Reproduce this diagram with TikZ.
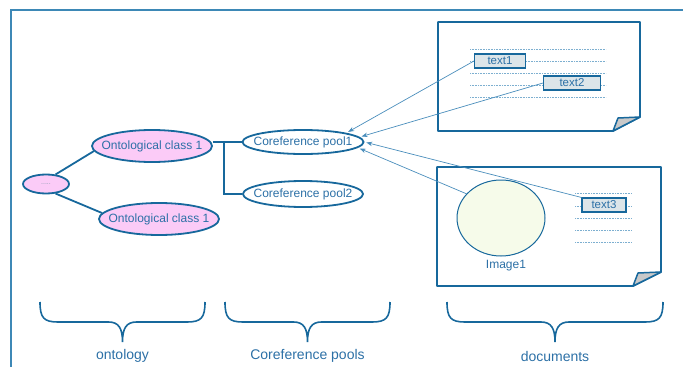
\documentclass[tikz,border=0pt]{standalone}
\usepackage{fontspec}
\setmainfont{Liberation Sans}
\usetikzlibrary{shapes.geometric,arrows.meta}
\definecolor{edgeblue}{HTML}{17689C}
\definecolor{textblue}{HTML}{2C70A6}
\definecolor{arrowblue}{HTML}{4A8EBC}
\definecolor{dotblue}{HTML}{7DAFD0}
\definecolor{classpink}{HTML}{FBCBF7}
\definecolor{imagefill}{HTML}{F6FBEA}
\definecolor{boxfill}{HTML}{DCE5E9}
\definecolor{foldgray}{HTML}{C9C9C9}
\definecolor{framecol}{HTML}{3D88B6}
\definecolor{dotgray}{HTML}{8C9CB2}

\begin{document}
\begin{tikzpicture}[x=1pt,y=-1pt,
                font=\fontsize{12}{14}\selectfont,
                entity/.style={ellipse,draw=edgeblue,line width=1.8pt,text=textblue,inner xsep=-8pt,inner ysep=0pt},
                textbox/.style={draw=edgeblue,line width=1.1pt,fill=boxfill,text=textblue,
                    minimum height=14pt,inner sep=0pt,font=\fontsize{11.5}{12}\selectfont},
                link/.style={draw=edgeblue,line width=1.8pt},
                ref/.style={draw=arrowblue,line width=0.7pt,-{Stealth[length=6pt,width=4.5pt]},shorten >=2pt},
                rule/.style={dotblue,densely dotted,line width=0.6pt},
                doc/.style={draw=edgeblue,line width=1.8pt,fill=white,line join=round},
                fold/.style={draw=edgeblue,line width=1.5pt,fill=foldgray,line join=round},
                brace/.style={draw=edgeblue,line width=1.6pt},
                caption/.style={text=textblue}]
                \useasboundingbox (0,0) rectangle (683,367);
                \draw[framecol,line width=1.4pt] (683,10) -- (11,10) -- (11,367);
                % documents
                \draw[doc] (438,22) -- (640,22) -- (640,117) -- (613,131) -- (438,131) -- cycle;
                \draw[fold] (613,131) -- (618,118) -- (640,117) -- cycle;
                \draw[doc] (437,167) -- (661,167) -- (661,272) -- (633,286) -- (437,286) -- cycle;
                \draw[fold] (633,286) -- (638,273) -- (661,272) -- cycle;
                \foreach \y in {49,61,73,85,97} \draw[rule] (470,\y) -- (606,\y);
                \foreach \y in {193,206,218,230,242} \draw[rule] (575,\y) -- (632,\y);
                \node[textbox,minimum width=51pt] (text1) at (500,61) {text1};
                \node[textbox,minimum width=57pt] (text2) at (572,83) {text2};
                \node[textbox,minimum width=44pt] (text3) at (604,205) {text3};
                \node[ellipse,draw=edgeblue,line width=1pt,fill=imagefill,
                    minimum width=88pt,minimum height=76pt] (img) at (501,218) {};
                \node[caption] (imglabel) at (506,266) {Image1};
                % ontology and pools
                \node[entity,fill=classpink,minimum width=46pt,minimum height=19pt,
                    font=\fontsize{7}{8}\selectfont,text=dotgray] (dots) at (46,184) {.....};
                \node[entity,fill=classpink,minimum width=120pt,minimum height=32pt] (cls1) at (152,146) {Ontological class 1};
                \node[entity,fill=classpink,minimum width=120pt,minimum height=32pt] (cls2) at (159,219) {Ontological class 1};
                \node[entity,minimum width=121pt,minimum height=24pt] (pool1) at (303,142) {Coreference pool1};
                \node[entity,minimum width=120pt,minimum height=26pt] (pool2) at (303,194) {Coreference pool2};
                \coordinate (split) at (224,142);
                \draw[link] (dots.45) -- (cls1.185);
                \draw[link] (dots.-45) -- (cls2.174);
                \draw[link] (cls1.east |- pool1.west) -- (pool1.west);
                \draw[link] (split) |- (pool2.west);
                \draw[ref] (text1.west) -- (pool1.north east);
                \draw[ref] (text2.west) -- (pool1.5);
                \draw[ref] (text3.north west) -- (pool1.east);
                \draw[ref] (img.145) -- (pool1.-6);
                % braces
                \foreach \a/\b/\name/\txt in {40/205/ontology/ontology,225/390/pools/Coreference pools,447/663/documents/documents}{
                    \pgfmathsetmacro{\m}{(\a+\b)/2}
                    \draw[brace] (\a,302) .. controls (\a,318) and (\a+4,322) .. (\a+18,322) -- (\m-14,322)
                        .. controls (\m-4,322) and (\m,328) .. (\m,342)
                        .. controls (\m,328) and (\m+4,322) .. (\m+14,322) -- (\b-18,322)
                        .. controls (\b-4,322) and (\b,318) .. (\b,302);
                    \node[caption,font=\fontsize{14}{16}\selectfont] (\name) at (\m,356) {\txt};
                }
            \end{tikzpicture}
\end{document}
